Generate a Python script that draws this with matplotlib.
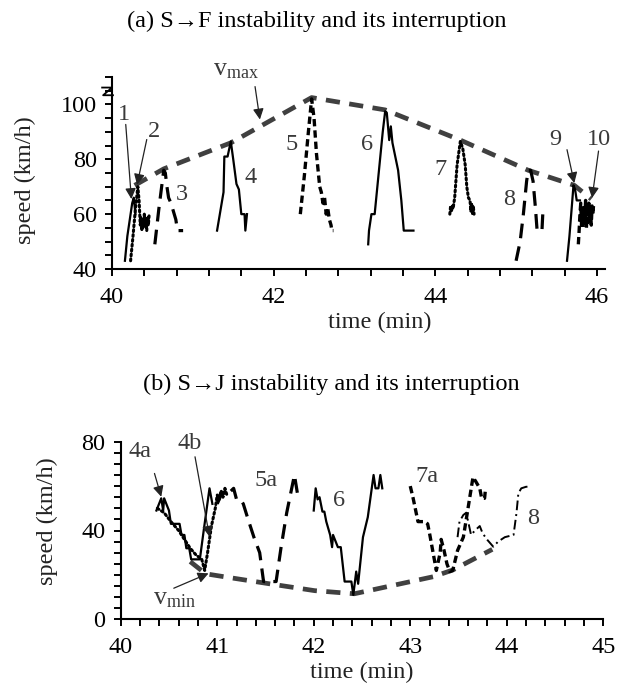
import matplotlib
matplotlib.use("Agg")
import matplotlib.pyplot as plt
from matplotlib.ticker import MultipleLocator

plt.rcParams['font.family'] = ['Liberation Serif', 'DejaVu Serif']
plt.rcParams['mathtext.fontset'] = 'custom'
plt.rcParams['mathtext.rm'] = 'Liberation Serif'
plt.rcParams['mathtext.it'] = 'Liberation Serif:italic'

FS = 17.5
GRAY = '#404040'
TXT = '#3a3a3a'

# ---------------- panel (a) data ----------------
a_c1_x = [40.16, 40.19, 40.22, 40.25, 40.27, 40.29]
a_c1_y = [43, 52, 58, 64, 66, 60]
a_c2_x = [40.23, 40.26, 40.29, 40.32, 40.335, 40.35, 40.36, 40.37, 40.38, 40.39, 40.40,
          40.41, 40.42, 40.43, 40.44, 40.45, 40.46]
a_c2_y = [43, 52, 62, 70, 65, 56, 59, 54, 58, 55, 60, 56, 58, 54, 59, 56, 60]
a_c3_x = [40.53, 40.58, 40.64, 40.66, 40.68, 40.70, 40.73, 40.76, 40.79, 40.81, 40.88]
a_c3_y = [49, 62, 76, 75, 70, 66, 64, 61, 58, 54, 54]
a_c4_x = [41.30, 41.34, 41.38, 41.39, 41.43, 41.47, 41.50, 41.54, 41.57, 41.60, 41.64, 41.65, 41.67]
a_c4_y = [54, 61, 68, 81, 81, 86.5, 80, 71, 69, 60, 60, 54, 60]
a_c5_x = [42.33, 42.38, 42.43, 42.47, 42.50, 42.53, 42.57, 42.59, 42.61, 42.63, 42.65,
          42.67, 42.69, 42.71, 42.72, 42.74]
a_c5_y = [60, 74, 90, 102, 95, 82, 70, 68, 64, 66, 60, 62, 58, 56, 54, 54]
a_c6_x = [43.17, 43.18, 43.21, 43.25, 43.30, 43.35, 43.38, 43.40, 43.43, 43.45, 43.47,
          43.54, 43.58, 43.61, 43.73]
a_c6_y = [49, 54, 60, 60, 75, 90, 97.5, 97, 87, 92, 86, 76, 65, 54, 54]
a_c7_x = [44.18, 44.19, 44.20, 44.21, 44.22, 44.24, 44.27, 44.31, 44.34, 44.37, 44.39,
          44.41, 44.43, 44.44, 44.45, 44.46, 44.47, 44.48]
a_c7_y = [60, 63, 61, 63, 62, 66, 78, 86.5, 84, 78, 70, 66, 65, 61, 64, 60, 63, 60]
a_c8_x = [45.00, 45.05, 45.09, 45.13, 45.15, 45.18, 45.21, 45.24, 45.26, 45.29, 45.32, 45.33]
a_c8_y = [43, 50, 60, 72, 76, 76, 72, 62, 54, 54, 54, 60]
a_c9_x = [45.63, 45.66, 45.69, 45.71, 45.73, 45.75, 45.79]
a_c9_y = [43, 52, 63, 70.5, 69, 65, 65]
a_c10_x = [45.77, 45.78, 45.79, 45.80, 45.81, 45.82, 45.83, 45.84, 45.85, 45.86, 45.87,
           45.88, 45.89, 45.90, 45.91, 45.92, 45.93, 45.94, 45.95, 45.96]
a_c10_y = [49, 54, 60, 64, 56, 62, 55, 63, 58, 65, 55, 61, 57, 64, 59, 62, 56, 63, 60, 64]
a_vmax_x = [40.28, 40.64, 41.47, 42.47, 43.38, 44.31, 45.15, 45.72, 45.93]
a_vmax_y = [70.5, 76.5, 86, 102.5, 98, 87, 76, 70.5, 65.5]

a_labels = ['1', '2', '3', '4', '5', '6', '7', '8', '9', '10']
a_label_x = [40.15, 40.52, 40.86, 41.71, 42.22, 43.15, 44.06, 44.91, 45.48, 46.02]
a_label_y = [96.4, 90.2, 67, 73.2, 85.4, 85.4, 76.2, 65.2, 87.2, 87.2]

# ---------------- panel (b) data ----------------
b_4a_x = [40.37, 40.42, 40.44, 40.45, 40.50, 40.52, 40.61, 40.63, 40.66, 40.68, 40.71,
          40.73, 40.82, 40.86, 40.92, 40.95]
b_4a_y = [49, 54.5, 49, 54.5, 49, 43, 43, 38, 38, 32, 32, 27, 27, 40, 59, 52]
b_4b_x = [40.38, 40.45, 40.52, 40.60, 40.66, 40.72, 40.78, 40.84, 40.87, 40.90, 40.94,
          40.98, 41.00, 41.02, 41.04, 41.06, 41.08, 41.10]
b_4b_y = [50, 48, 44, 40, 36, 32, 29, 27, 22, 30, 42, 50, 56, 54, 58, 55, 59, 56]
b_5a_x = [41.00, 41.05, 41.10, 41.17, 41.20, 41.24, 41.27, 41.32, 41.38, 41.44, 41.48,
          41.52, 41.57, 41.61, 41.66, 41.72, 41.80, 41.83]
b_5a_y = [52, 57, 56, 59, 54, 54, 52, 45, 37, 30, 17, 17, 17, 17, 32, 48, 65, 57]
b_6_x = [42.00, 42.02, 42.04, 42.06, 42.09, 42.11, 42.13, 42.17, 42.19, 42.20, 42.25,
         42.28, 42.32, 42.39, 42.41, 42.44, 42.46, 42.51, 42.56, 42.62, 42.64, 42.67,
         42.69, 42.71]
b_6_y = [49, 59, 54, 55, 48.5, 48.5, 44, 38, 32.5, 38, 32.5, 32.5, 17, 17, 11, 21.5,
         16, 37, 46, 65, 59, 59, 65, 59]
b_7a_x = [43.00, 43.03, 43.08, 43.15, 43.18, 43.20, 43.27, 43.31, 43.32, 43.35, 43.38,
          43.41, 43.44, 43.49, 43.55, 43.58, 43.65, 43.68, 43.72, 43.74, 43.77, 43.78]
b_7a_y = [60, 54.5, 44, 44, 43, 38.7, 22, 30, 36, 31, 25, 21.5, 22, 31, 37, 45, 64, 62,
          59, 54.5, 54.5, 59]
b_8_x = [43.49, 43.51, 43.55, 43.58, 43.60, 43.63, 43.67, 43.72, 43.75, 43.80, 43.86,
         43.91, 43.98, 44.07, 44.10, 44.12, 44.15, 44.20, 44.24]
b_8_y = [37, 44, 47, 48, 44, 38, 40, 42, 38.7, 35.7, 32.7, 35, 37, 38, 47.7, 56.7, 59,
         59.7, 59.7]
b_vmin_x = [40.72, 40.88, 41.17, 41.51, 42.01, 42.42, 43.24, 43.44, 43.85]
b_vmin_y = [26, 20.5, 18.5, 16.2, 12.9, 11.5, 19.2, 22.2, 31.5]

b_labels = ['4a', '4b', '5a', '6', '7a', '8']
b_label_x = [40.20, 40.71, 41.51, 42.26, 43.17, 44.27]
b_label_y = [75.5, 79.2, 62.7, 53.7, 64.2, 45.5]

# ---------------- styles ----------------
SOLID = dict(color='black', lw=1.6, ls='-')
DOT = dict(color='black', lw=2.2, ls=(0, (0.6, 1.0)), dash_capstyle='round')
LDASH = dict(color='black', lw=2.3, ls=(0, (4.6, 2.6)))
DASH = dict(color='black', lw=2.4, ls=(0, (2.2, 1.2)))
DASHDOT = dict(color='black', lw=1.4, ls=(0, (5, 2, 1, 2)))
ENV = dict(color=GRAY, lw=3.4, ls=(0, (3.0, 2.0)))


def arrow(ax, start, end):
    ax.annotate('', xy=end, xytext=start,
                arrowprops=dict(arrowstyle='-|>', color='#222222', lw=0.9,
                                mutation_scale=16, shrinkA=0, shrinkB=0),
                annotation_clip=False)


def style_axes(ax):
    for s in ['top', 'right']:
        ax.spines[s].set_visible(False)
    for s in ['left', 'bottom']:
        ax.spines[s].set_linewidth(1.5)
    ax.tick_params(which='both', direction='out', length=5, width=1.4,
                   labelsize=FS, colors='black')
    ax.tick_params(axis='x', pad=8)
    ax.tick_params(axis='y', pad=6)


fig = plt.figure(figsize=(6.25, 6.87), dpi=100)

# ---------- panel (a) ----------
ax1 = fig.add_axes([112 / 625, 1 - 269 / 687, 493 / 625, 192 / 687])
ax1.set_xlim(40, 46.1)
ax1.set_ylim(40, 110)
ax1.xaxis.set_major_locator(MultipleLocator(2))
ax1.xaxis.set_minor_locator(MultipleLocator(0.4))
ax1.set_yticks([40, 60, 80, 100])
ax1.yaxis.set_minor_locator(MultipleLocator(5))
style_axes(ax1)

ax1.plot(a_vmax_x, a_vmax_y, **ENV)
ax1.plot(a_c1_x, a_c1_y, **SOLID)
ax1.plot(a_c2_x, a_c2_y, **DOT)
ax1.plot(a_c3_x, a_c3_y, **LDASH)
ax1.plot(a_c4_x, a_c4_y, **SOLID)
ax1.plot(a_c5_x, a_c5_y, **DASH)
ax1.plot(a_c6_x, a_c6_y, **SOLID)
ax1.plot(a_c7_x, a_c7_y, **DOT)
ax1.plot(a_c8_x, a_c8_y, **LDASH)
ax1.plot(a_c9_x, a_c9_y, **SOLID)
ax1.plot(a_c10_x, a_c10_y, **DASH)

for t, x, y in zip(a_labels, a_label_x, a_label_y):
    ax1.text(x, y, t, fontsize=FS, color=TXT, ha='center', va='center', clip_on=False)
ax1.text(41.53, 112.5, r'$\mathrm{v}_{\mathrm{max}}$', fontsize=FS + 1, color=TXT,
         ha='center', va='center', clip_on=False)
arrow(ax1, (40.17, 92.7), (40.24, 65.5))
arrow(ax1, (40.43, 87.2), (40.31, 70.7))
arrow(ax1, (41.77, 106.5), (41.83, 94.5))
arrow(ax1, (45.63, 83.5), (45.72, 71.3))
arrow(ax1, (46.02, 83.0), (45.94, 65.9))

# axis-break mark near top of y axis
ax1.plot([-0.020, 0.000, -0.018, 0.002], [0.945, 0.945, 0.905, 0.905],
         transform=ax1.transAxes, color='black', lw=1.3, clip_on=False)

# ---------- panel (b) ----------
ax2 = fig.add_axes([120.7 / 625, 1 - 619.3 / 687, 482.6 / 625, 177.6 / 687])
ax2.set_xlim(40, 45)
ax2.set_ylim(0, 80)
ax2.xaxis.set_major_locator(MultipleLocator(1))
ax2.xaxis.set_minor_locator(MultipleLocator(0.2))
ax2.set_yticks([0, 40, 80])
ax2.yaxis.set_minor_locator(MultipleLocator(5))
style_axes(ax2)

ax2.plot(b_vmin_x, b_vmin_y, **ENV)
ax2.plot(b_4a_x, b_4a_y, **SOLID)
ax2.plot(b_4b_x, b_4b_y, **DOT)
ax2.plot(b_5a_x, b_5a_y, **LDASH)
ax2.plot(b_6_x, b_6_y, **SOLID)
ax2.plot(b_7a_x, b_7a_y, **DASH)
ax2.plot(b_8_x, b_8_y, **DASHDOT)

for t, x, y in zip(b_labels, b_label_x, b_label_y):
    ax2.text(x, y, t, fontsize=FS, color=TXT, ha='center', va='center', clip_on=False)
ax2.text(40.56, 9.0, r'$\mathrm{v}_{\mathrm{min}}$', fontsize=FS + 1, color=TXT,
         ha='center', va='center', clip_on=False)
arrow(ax2, (40.35, 65.7), (40.42, 55.2))
arrow(ax2, (40.77, 73.2), (40.92, 37.2))
arrow(ax2, (40.55, 14.0), (40.91, 20.7))

# ---------- titles and axis labels ----------
fig.text(316.5 / 625, 1 - 21 / 687, '(a) S\u2192F instability and its interruption',
         fontsize=FS, ha='center', va='center')
fig.text(331 / 625, 1 - 384 / 687, '(b) S\u2192J instability and its interruption',
         fontsize=FS, ha='center', va='center')
fig.text(25 / 625, 1 - 180 / 687, 'speed (km/h)', fontsize=FS, rotation=90,
         ha='center', va='center', color='#222222')
fig.text(47 / 625, 1 - 521 / 687, 'speed (km/h)', fontsize=FS, rotation=90,
         ha='center', va='center', color='#222222')
fig.text(380 / 625, 1 - 322 / 687, 'time (min)', fontsize=FS, ha='center', va='center',
         color='#222222')
fig.text(362 / 625, 1 - 672 / 687, 'time (min)', fontsize=FS, ha='center', va='center',
         color='#222222')

fig.savefig('out.png', dpi=100)
